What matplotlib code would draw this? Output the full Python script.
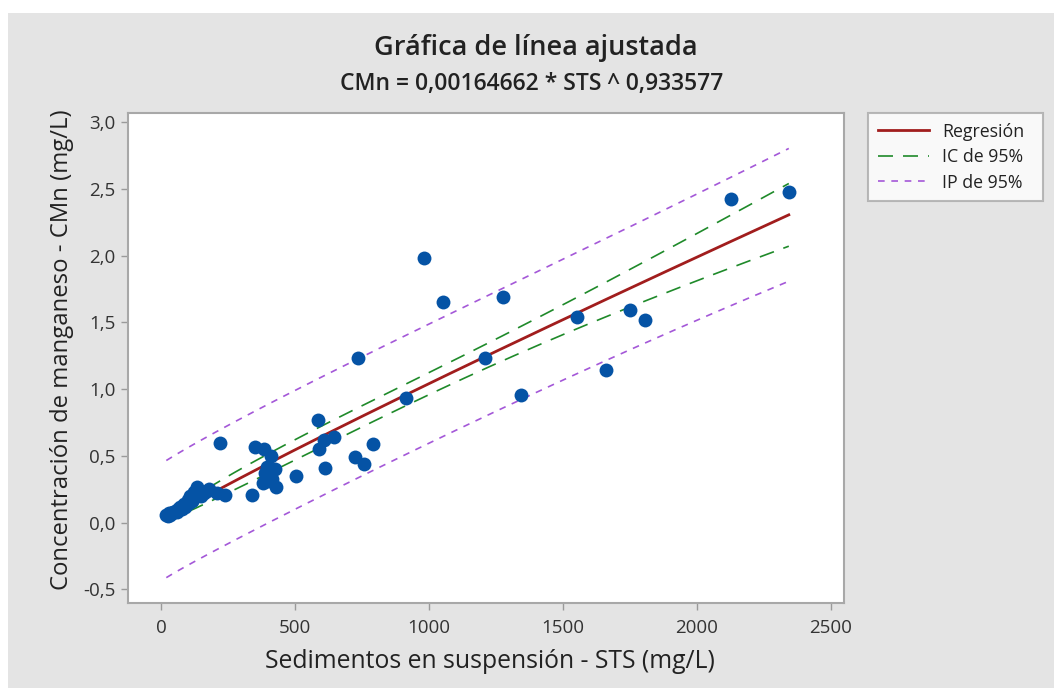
import numpy as np
import matplotlib
matplotlib.use("Agg")
import matplotlib.pyplot as plt
from matplotlib.patches import Rectangle
from matplotlib.ticker import FuncFormatter, FixedLocator
from matplotlib.lines import Line2D

plt.rcParams['font.family'] = ['Open Sans', 'DejaVu Sans']

# ---- data ----
sts = [20, 25, 30, 35, 40, 45, 50, 55, 60, 65, 70, 75, 80, 85, 90, 95, 100, 105,
       110, 115, 120, 125, 130, 135, 140, 150, 160, 170, 180, 210, 240, 220, 340,
       350, 385, 410, 395, 425, 390, 400, 430, 415, 380, 505, 585, 590, 610, 645,
       612, 725, 757, 790, 735, 914, 981, 1052, 1276, 1209, 1343, 1552, 1660,
       1750, 1806, 2127, 2343]
cmn = [0.06, 0.05, 0.07, 0.06, 0.07, 0.08, 0.08, 0.09, 0.08, 0.10, 0.12, 0.11,
       0.10, 0.14, 0.12, 0.13, 0.17, 0.15, 0.20, 0.16, 0.18, 0.23, 0.20, 0.27,
       0.22, 0.20, 0.22, 0.24, 0.25, 0.22, 0.21, 0.60, 0.21, 0.57, 0.55, 0.50,
       0.42, 0.40, 0.37, 0.31, 0.27, 0.33, 0.30, 0.35, 0.77, 0.55, 0.62, 0.64,
       0.41, 0.49, 0.44, 0.59, 1.23, 0.93, 1.98, 1.65, 1.69, 1.23, 0.955, 1.54,
       1.14, 1.59, 1.515, 2.42, 2.475]
coef_a = 0.00164662
coef_b = 0.933577
t_crit = 2.0000  # t(0.975, n-2)

x_ticks = [0, 500, 1000, 1500, 2000, 2500]
y_ticks = [-0.5, 0.0, 0.5, 1.0, 1.5, 2.0, 2.5, 3.0]
legend_labels = ["Regresión", "IC de 95%", "IP de 95%"]
title = "Gráfica de línea ajustada"
subtitle = "CMn = 0,00164662 * STS ^ 0,933577"
xlabel = "Sedimentos en suspensión - STS (mg/L)"
ylabel = "Concentración de manganeso - CMn (mg/L)"

x = np.array(sts, float)
y = np.array(cmn, float)

# ---- fit and bands (nonlinear regression, delta method) ----
def model(v):
    return coef_a * v ** coef_b

def jac(v):
    return np.column_stack([v ** coef_b, coef_a * v ** coef_b * np.log(v)])

J = jac(x)
resid = y - model(x)
n = len(x)
s2 = np.sum(resid ** 2) / (n - 2)
cov = s2 * np.linalg.inv(J.T @ J)
xg = np.linspace(x.min(), x.max(), 300)
G = jac(xg)
var_fit = np.einsum('ij,jk,ik->i', G, cov, G)
fit = model(xg)
ci = t_crit * np.sqrt(var_fit)
pi = t_crit * np.sqrt(s2 + var_fit)

# ---- figure ----
W, H = 1054, 688
fig = plt.figure(figsize=(W / 100, H / 100), dpi=100)
fig.patch.set_facecolor('white')
fig.patches.append(Rectangle((8 / W, 0), 1 - 8 / W, 1 - 13 / H, transform=fig.transFigure,
                             facecolor='#e4e4e4', edgecolor='none', zorder=-10))

ax = fig.add_axes([128 / W, 1 - 602.7 / H, (844 - 128) / W, (602.7 - 112.7) / H])
ax.set_facecolor('white')

reg_color = '#a11d1d'
ci_color = '#1f8a2a'
pi_color = '#a458d8'

ax.plot(xg, fit, color=reg_color, lw=2.0, zorder=3)
ax.plot(xg, fit + ci, color=ci_color, lw=1.2, dashes=(9, 6), zorder=3)
ax.plot(xg, fit - ci, color=ci_color, lw=1.2, dashes=(9, 6), zorder=3)
ax.plot(xg, fit + pi, color=pi_color, lw=1.2, dashes=(4, 4), zorder=3)
ax.plot(xg, fit - pi, color=pi_color, lw=1.2, dashes=(4, 4), zorder=3)
ax.plot(x, y, 'o', color='#0553a5', ms=10, mec='none', zorder=4)

ax.set_xlim(-123, 2549)
ax.set_ylim(-0.599, 3.069)
ax.xaxis.set_major_locator(FixedLocator(x_ticks))
ax.yaxis.set_major_locator(FixedLocator(y_ticks))
ax.yaxis.set_major_formatter(FuncFormatter(lambda v, p: f"{v:.1f}".replace('.', ',')))
ax.xaxis.set_major_formatter(FuncFormatter(lambda v, p: f"{v:.0f}"))
ax.tick_params(axis='both', direction='out', length=5, width=1, color='#9a9a9a',
               labelsize=13.5, labelcolor='#333333', pad=4)
ax.tick_params(axis='x', pad=7)
for s in ax.spines.values():
    s.set_color('#a8a8a8')
    s.set_linewidth(1.5)

fig.text(536 / W, 1 - 48 / H, title, ha='center', va='center', fontsize=19.5,
         fontweight='semibold', color='#222222')
fig.text(532 / W, 1 - 84 / H, subtitle, ha='center', va='center', fontsize=16.5,
         fontweight='semibold', color='#222222')
fig.text(490 / W, 1 - 662 / H, xlabel, ha='center', va='center', fontsize=17.8,
         color='#222222')
fig.text(62 / W, 1 - 350 / H, ylabel, ha='center', va='center', rotation=90, fontsize=17.2,
         color='#222222')

handles = [Line2D([], [], color=reg_color, lw=2.0),
           Line2D([], [], color=ci_color, lw=1.2, dashes=(9, 6)),
           Line2D([], [], color=pi_color, lw=1.2, dashes=(4, 4))]
leg = fig.legend(handles, legend_labels, loc='upper left',
                 bbox_to_anchor=(868 / W, 1 - 113 / H, (1043 - 868) / W, 0.0001),
                 mode='expand', fontsize=12.8, frameon=True, fancybox=False,
                 borderpad=0.55, labelspacing=0.42, handlelength=2.9, handletextpad=0.7,
                 borderaxespad=0)
leg.get_frame().set_edgecolor('#a8a8a8')
leg.get_frame().set_linewidth(1.5)
leg.get_frame().set_facecolor('white')
for t in leg.get_texts():
    t.set_color('#222222')

fig.savefig('out.png', dpi=100)
